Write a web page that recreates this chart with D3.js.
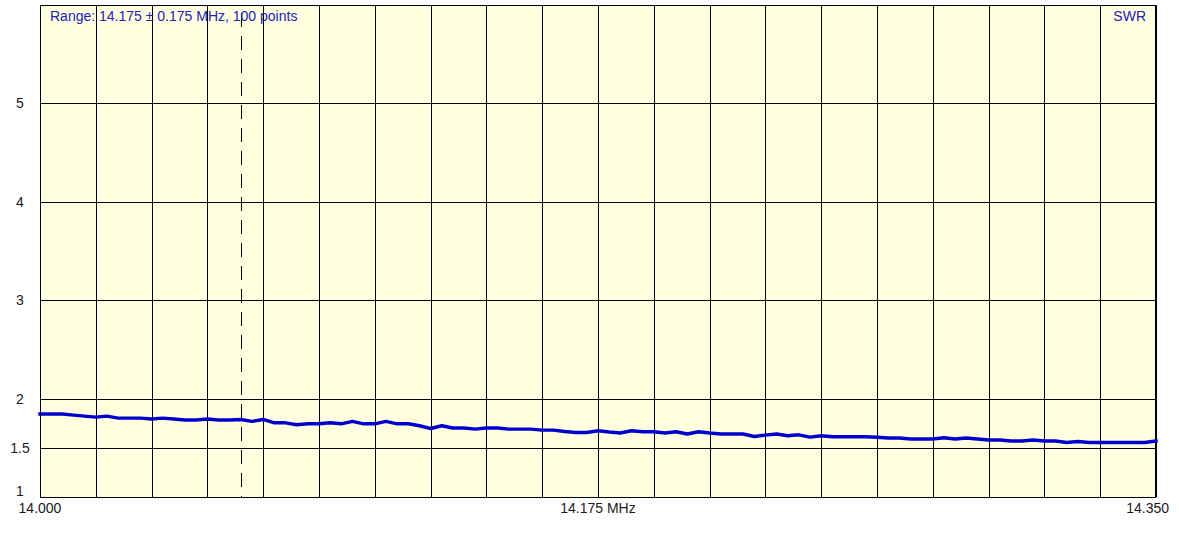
<!DOCTYPE html>
<html>
<head>
<meta charset="utf-8">
<script src="https://cdn.jsdelivr.net/npm/d3@7"></script>
<style>
  html, body { margin: 0; padding: 0; background: #ffffff; }
  svg { display: block; }
  text { font-family: Arial, "Liberation Sans", sans-serif; }
</style>
</head>
<body>
<svg id="chart" width="1179" height="540"></svg>
<script>
// ---- data ----
const freqStart = 14.000;
const freqStop = 14.350;
const numPoints = 100;
const swrValues = [
  1.843, 1.843, 1.843, 1.832, 1.822, 1.812, 1.822, 1.802, 1.802, 1.802,
  1.792, 1.802, 1.792, 1.782, 1.782, 1.792, 1.782, 1.782, 1.788, 1.768,
  1.788, 1.754, 1.754, 1.734, 1.744, 1.744, 1.754, 1.744, 1.768, 1.744,
  1.744, 1.768, 1.744, 1.744, 1.724, 1.696, 1.724, 1.701, 1.701, 1.690,
  1.701, 1.701, 1.690, 1.690, 1.690, 1.680, 1.680, 1.666, 1.656, 1.656,
  1.673, 1.660, 1.650, 1.673, 1.663, 1.663, 1.650, 1.663, 1.640, 1.663,
  1.650, 1.640, 1.640, 1.640, 1.615, 1.629, 1.640, 1.622, 1.632, 1.609,
  1.622, 1.612, 1.612, 1.612, 1.612, 1.607, 1.599, 1.599, 1.589, 1.589,
  1.589, 1.602, 1.589, 1.599, 1.589, 1.579, 1.579, 1.569, 1.569, 1.579,
  1.569, 1.569, 1.554, 1.564, 1.554, 1.554, 1.554, 1.554, 1.554, 1.554,
  1.569
];
const yTickValues = [1, 1.5, 2, 3, 4, 5];
const yTickLabels = ["1", "1.5", "2", "3", "4", "5"];
const xGridCount = 20;
const xTickValues = [14.000, 14.175, 14.350];
const xTickLabels = ["14.000", "14.175 MHz", "14.350"];
const markerFreq = 14.063;
const rangeLabel = "Range: 14.175 \u00b1 0.175 MHz, 100 points";
const seriesLabel = "SWR";

// ---- layout ----
const svg = d3.select("#chart");
const L = 40, R = 1156, T = 5, B = 497;

const x = d3.scaleLinear().domain([freqStart, freqStop]).range([L, R]);
const y = d3.scaleLinear().domain([1, 6]).range([B, T]);

// plot background
svg.append("rect")
  .attr("x", L).attr("y", T).attr("width", R - L).attr("height", B - T)
  .attr("fill", "#ffffe0");

// vertical grid
const xGrid = d3.range(xGridCount + 1).map(i => freqStart + i * (freqStop - freqStart) / xGridCount);
svg.append("g").selectAll("line").data(xGrid).join("line")
  .attr("x1", d => Math.round(x(d)) + 0.5).attr("x2", d => Math.round(x(d)) + 0.5)
  .attr("y1", T).attr("y2", B)
  .attr("stroke", "#000").attr("stroke-width", 1);

// horizontal grid
svg.append("g").selectAll("line").data(yTickValues.filter(v => v > 1)).join("line")
  .attr("x1", L).attr("x2", R)
  .attr("y1", d => Math.round(y(d)) + 0.5).attr("y2", d => Math.round(y(d)) + 0.5)
  .attr("stroke", "#000").attr("stroke-width", 1);

// border
svg.append("rect")
  .attr("x", L + 0.5).attr("y", T + 0.5).attr("width", R - L - 1).attr("height", B - T)
  .attr("fill", "none").attr("stroke", "#000").attr("stroke-width", 1);

// dashed marker line
svg.append("line")
  .attr("x1", Math.round(x(markerFreq)) + 0.5).attr("x2", Math.round(x(markerFreq)) + 0.5)
  .attr("y1", T + 8).attr("y2", B)
  .attr("stroke", "#000").attr("stroke-width", 1)
  .attr("stroke-dasharray", "14,9");

// SWR line
const line = d3.line()
  .x((d, i) => x(freqStart + i * (freqStop - freqStart) / numPoints))
  .y(d => y(d));
svg.append("path").datum(swrValues)
  .attr("d", line)
  .attr("fill", "none")
  .attr("stroke", "#0000cc")
  .attr("stroke-width", 3.4)
  .attr("stroke-linejoin", "round")
  .attr("stroke-linecap", "square");

// y labels
svg.append("g").selectAll("text").data(yTickValues).join("text")
  .attr("x", 20)
  .attr("y", (d, i) => d === 1 ? B - 1 : y(d) + 5)
  .attr("text-anchor", "middle")
  .attr("font-size", 14)
  .attr("fill", "#1a1a1a")
  .text((d, i) => yTickLabels[i]);

// x labels
svg.append("g").selectAll("text").data(xTickValues).join("text")
  .attr("x", (d, i) => i === xTickValues.length - 1 ? 1169 : x(d))
  .attr("y", 513)
  .attr("text-anchor", (d, i) => i === xTickValues.length - 1 ? "end" : "middle")
  .attr("font-size", 14)
  .attr("fill", "#1a1a1a")
  .text((d, i) => xTickLabels[i]);

// header texts
svg.append("text")
  .attr("x", 50).attr("y", 21)
  .attr("font-size", 14).attr("fill", "#2020c0")
  .text(rangeLabel);
svg.append("text")
  .attr("x", 1146).attr("y", 21)
  .attr("text-anchor", "end")
  .attr("font-size", 14).attr("fill", "#2020c0")
  .text(seriesLabel);
</script>
</body>
</html>
